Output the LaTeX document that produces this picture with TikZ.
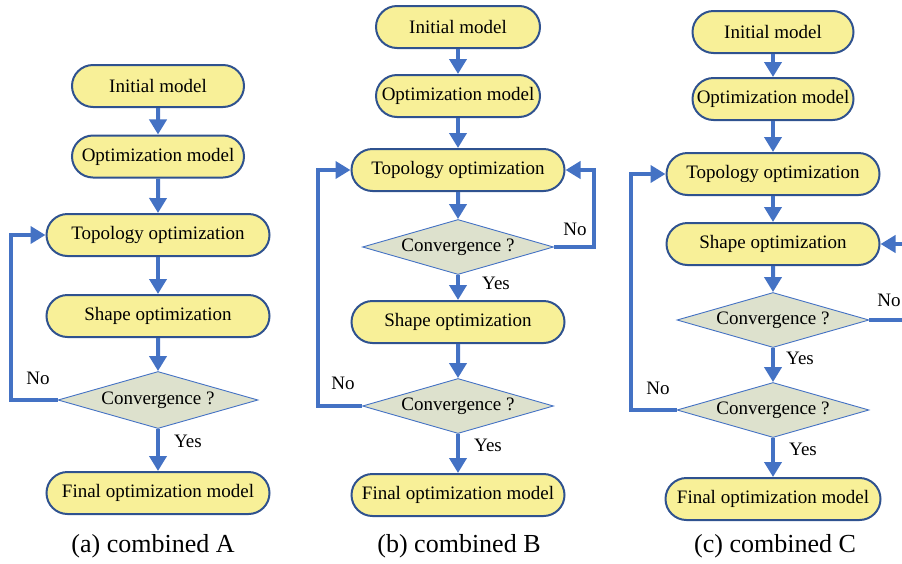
\documentclass[tikz,border=0pt]{standalone}
\usepackage{fontspec}
\setmainfont{Liberation Serif}
\usetikzlibrary{positioning,shapes.misc,shapes.geometric,arrows.meta}

\definecolor{boxfill}{RGB}{248,240,152}
\definecolor{boxline}{RGB}{47,82,143}
\definecolor{flowblue}{RGB}{68,114,196}
\definecolor{testfill}{RGB}{221,225,205}

\begin{document}
\begin{tikzpicture}[x=1pt,y=-1pt,
    proc/.style={rounded rectangle, draw=boxline, line width=2pt, fill=boxfill, minimum height=42pt, inner sep=0pt, font=\fontsize{19}{23}\selectfont},
    test/.style={diamond, draw=flowblue, line width=0.9pt, fill=testfill, aspect=3.5, inner sep=0pt, font=\fontsize{19}{23}\selectfont},
    flow/.style={draw=flowblue, line width=4pt, -{Triangle[length=15pt,width=17pt]}},
    lbl/.style={font=\fontsize{19}{22}\selectfont},
    subcaption/.style={font=\fontsize{26}{30}\selectfont}]
  \useasboundingbox (0,0) rectangle (902,563);

  % (a) combined A
  \node[proc, minimum width=172pt] (AInit) at (158,86) {Initial model};
  \node[proc, minimum width=172pt, on grid, below=70.5pt of AInit] (AOpt) {Optimization model};
  \node[proc, minimum width=223pt, on grid, below=78.5pt of AOpt] (ATopo) {Topology optimization};
  \node[proc, minimum width=223pt, on grid, below=81pt of ATopo] (AShape) {Shape optimization};
  \node[test, minimum width=200pt, minimum height=57pt, on grid, below=84pt of AShape] (AConv) {Convergence ?};
  \node[proc, minimum width=223pt, on grid, below=93pt of AConv] (AFinal) {Final optimization model};
  \node[lbl, on grid, below right=41pt and 30pt of AConv] (AYes) {Yes};
  \node[lbl, on grid, above left=22pt and 120pt of AConv] (ANo) {No};
  \draw[flow] (AInit) -- (AOpt);
  \draw[flow] (AOpt) -- (ATopo);
  \draw[flow] (ATopo) -- (AShape);
  \draw[flow] (AShape) -- (AConv);
  \draw[flow] (AConv) -- (AFinal);
  \draw[flow] (AConv.west) -- ++(-47,0) |- (ATopo.west);
  \node[subcaption] (ACap) at (153,546) {(a) combined A};

  % (b) combined B
  \node[proc, minimum width=164pt] (BInit) at (458,27) {Initial model};
  \node[proc, minimum width=164pt, on grid, below=69pt of BInit] (BOpt) {Optimization model};
  \node[proc, minimum width=213pt, on grid, below=74pt of BOpt] (BTopo) {Topology optimization};
  \node[test, minimum width=191pt, minimum height=55pt, on grid, below=77pt of BTopo] (BConvA) {Convergence ?};
  \node[proc, minimum width=213pt, on grid, below=75pt of BConvA] (BShape) {Shape optimization};
  \node[test, minimum width=191pt, minimum height=55pt, on grid, below=84pt of BShape] (BConvB) {Convergence ?};
  \node[proc, minimum width=213pt, on grid, below=89pt of BConvB] (BFinal) {Final optimization model};
  \node[lbl, on grid, below right=36pt and 38pt of BConvA] (BYesA) {Yes};
  \node[lbl, on grid, above right=18pt and 117pt of BConvA] (BNoA) {No};
  \node[lbl, on grid, below right=39pt and 30pt of BConvB] (BYesB) {Yes};
  \node[lbl, on grid, above left=23pt and 115pt of BConvB] (BNoB) {No};
  \draw[flow] (BInit) -- (BOpt);
  \draw[flow] (BOpt) -- (BTopo);
  \draw[flow] (BTopo) -- (BConvA);
  \draw[flow] (BConvA) -- (BShape);
  \draw[flow] (BShape) -- (BConvB);
  \draw[flow] (BConvB) -- (BFinal);
  \draw[flow] (BConvA.east) -- ++(40,0) |- (BTopo.east);
  \draw[flow] (BConvB.west) -- ++(-44,0) |- (BTopo.west);
  \node[subcaption] (BCap) at (459,546) {(b) combined B};

  % (c) combined C
  \node[proc, minimum width=161pt] (CInit) at (773,32) {Initial model};
  \node[proc, minimum width=161pt, on grid, below=67pt of CInit] (COpt) {Optimization model};
  \node[proc, minimum width=213pt, on grid, below=75pt of COpt] (CTopo) {Topology optimization};
  \node[proc, minimum width=213pt, on grid, below=70pt of CTopo] (CShape) {Shape optimization};
  \node[test, minimum width=192pt, minimum height=55pt, on grid, below=76pt of CShape] (CConvA) {Convergence ?};
  \node[test, minimum width=192pt, minimum height=55pt, on grid, below=90pt of CConvA] (CConvB) {Convergence ?};
  \node[proc, minimum width=215pt, on grid, below=89pt of CConvB] (CFinal) {Final optimization model};
  \node[lbl, on grid, below right=38pt and 27pt of CConvA] (CYesA) {Yes};
  \node[lbl, on grid, above right=20pt and 116pt of CConvA] (CNoA) {No};
  \node[lbl, on grid, below right=39pt and 30pt of CConvB] (CYesB) {Yes};
  \node[lbl, on grid, above left=22pt and 115pt of CConvB] (CNoB) {No};
  \draw[flow] (CInit) -- (COpt);
  \draw[flow] (COpt) -- (CTopo);
  \draw[flow] (CTopo) -- (CShape);
  \draw[flow] (CShape) -- (CConvA);
  \draw[flow] (CConvA) -- (CConvB);
  \draw[flow] (CConvB) -- (CFinal);
  \draw[flow] (CConvA.east) -- ++(37,0) |- (CShape.east);
  \draw[flow] (CConvB.west) -- ++(-46,0) |- (CTopo.west);
  \node[subcaption] (CCap) at (775,546) {(c) combined C};
\end{tikzpicture}
\end{document}
